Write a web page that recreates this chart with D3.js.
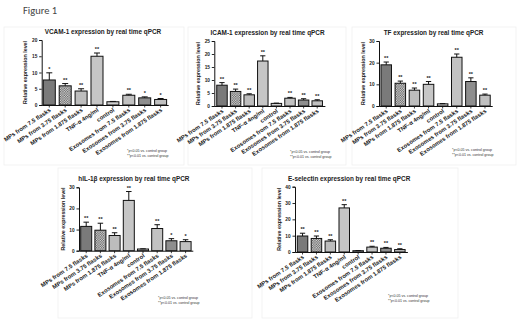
<!DOCTYPE html>
<html>
<head>
<meta charset="utf-8">
<script src="https://cdn.jsdelivr.net/npm/d3@7"></script>
<style>
  body { margin: 0; background: #fff; }
  svg { display: block; font-family: "Liberation Sans", Arial, sans-serif; }
</style>
</head>
<body>
<svg id="fig" width="520" height="325"></svg>
<script>
// Data
const categories = ["MPs from 7.5 flasks", "MPs from 3.75 flasks", "MPs from 1.875 flasks", "TNF-α 4ng/ml",
  "control", "Exosomes from 7.5 flasks", "Exosomes from 3.75 flasks", "Exosomes from 1.875 flasks"];

const vcamMeans = [7.7, 5.9, 4.3, 15.0, 1.0, 3.0, 2.2, 1.7];
const vcamErrors = [2.2, 0.7, 0.7, 1.0, 0.1, 0.3, 0.3, 0.3];
const vcamStars = ["*", "**", "**", "**", "", "**", "*", "*"];
const vcamTicks = [0, 5, 10, 15, 20];

const icamMeans = [8.0, 5.6, 4.3, 17.3, 1.0, 3.0, 2.3, 2.0];
const icamErrors = [1.0, 0.9, 0.4, 2.0, 0.1, 0.3, 0.5, 0.4];
const icamStars = ["**", "**", "**", "**", "", "**", "**", "**"];
const icamTicks = [0, 5, 10, 15, 20, 25];

const tfMeans = [19.0, 10.5, 7.3, 10.0, 1.0, 22.5, 11.3, 5.0];
const tfErrors = [1.3, 1.0, 1.0, 1.3, 0.1, 1.5, 1.7, 0.5];
const tfStars = ["**", "**", "**", "**", "", "**", "**", "**"];
const tfTicks = [0, 10, 20, 30];

const il1Means = [11.5, 9.7, 7.2, 23.8, 0.8, 10.5, 4.7, 4.3];
const il1Errors = [2.0, 3.3, 1.3, 4.2, 0.1, 1.8, 1.0, 0.9];
const il1Stars = ["**", "**", "**", "**", "", "**", "*", "*"];
const il1Ticks = [0, 10, 20, 30];

const eselMeans = [9.8, 8.3, 6.7, 27.0, 0.8, 3.0, 2.3, 1.5];
const eselErrors = [1.7, 1.5, 0.8, 2.0, 0.1, 0.5, 0.5, 0.5];
const eselStars = ["**", "**", "**", "**", "", "**", "**", "**"];
const eselTicks = [0, 10, 20, 30, 40];

const titles = ["VCAM-1 expression by real time qPCR", "ICAM-1 expression by real time qPCR",
  "TF expression by real time qPCR", "hIL-1β expression by real time qPCR",
  "E-selectin expression by real time qPCR"];

// Layout of each panel (pixels)
const layouts = [
  { x0: 41.7, x1: 168.2, y0: 105, y1: 40, pin: 0.245, pout: 0.1, note: [127, 152], frame: [4, 27, 180, 138] },
  { x0: 214.3, x1: 324.9, y0: 106, y1: 41, pin: 0.23, pout: 0.18, note: [290, 153], frame: [188, 27, 158, 138] },
  { x0: 379, x1: 492.2, y0: 106, y1: 41, pin: 0.255, pout: 0.14, note: [452, 151], frame: [352, 27, 164, 138] },
  { x0: 79, x1: 192.8, y0: 250.7, y1: 187.3, pin: 0.225, pout: 0.12, note: [158, 299], frame: [58, 168, 194, 150] },
  { x0: 295, x1: 407.4, y0: 252, y1: 186.7, pin: 0.245, pout: 0.165, note: [388, 297], frame: [262, 168, 196, 150] }
];

const panels = [
  { means: vcamMeans, errors: vcamErrors, stars: vcamStars, ticks: vcamTicks },
  { means: icamMeans, errors: icamErrors, stars: icamStars, ticks: icamTicks },
  { means: tfMeans, errors: tfErrors, stars: tfStars, ticks: tfTicks },
  { means: il1Means, errors: il1Errors, stars: il1Stars, ticks: il1Ticks },
  { means: eselMeans, errors: eselErrors, stars: eselStars, ticks: eselTicks }
];

const barFills = ["#7a7a7a", "url(#checker)", "#bdbdbd", "#c6c6c6", "#cfcfcf", "#c2c2c2", "#8e8e8e", "#c0c0c0"];

const svg = d3.select("#fig");

// checkered pattern for the second bar
const pat = svg.append("defs").append("pattern")
  .attr("id", "checker")
  .attr("patternUnits", "userSpaceOnUse")
  .attr("width", 2.4).attr("height", 2.4);
pat.append("rect").attr("width", 2.4).attr("height", 2.4).attr("fill", "#e4e4e4");
pat.append("rect").attr("width", 1.2).attr("height", 1.2).attr("fill", "#555");
pat.append("rect").attr("x", 1.2).attr("y", 1.2).attr("width", 1.2).attr("height", 1.2).attr("fill", "#555");

svg.append("text")
  .attr("x", 23).attr("y", 14)
  .attr("font-family", "Calibri, 'Liberation Sans', sans-serif")
  .attr("font-size", 10.5)
  .attr("fill", "#444")
  .text("Figure 1");

panels.forEach((p, i) => {
  const L = layouts[i];
  const g = svg.append("g");

  // faint panel frame
  g.append("rect")
    .attr("x", L.frame[0]).attr("y", L.frame[1])
    .attr("width", L.frame[2]).attr("height", L.frame[3])
    .attr("fill", "none").attr("stroke", "#f0f0f0").attr("stroke-width", 0.8);

  const x = d3.scaleBand()
    .domain(categories)
    .range([L.x0, L.x1])
    .paddingInner(L.pin)
    .paddingOuter(L.pout);

  const y = d3.scaleLinear()
    .domain([0, d3.max(p.ticks)])
    .range([L.y0, L.y1]);

  // title
  g.append("text")
    .attr("x", (L.x0 + L.x1) / 2 - 2)
    .attr("y", L.y1 - 6)
    .attr("text-anchor", "middle")
    .attr("font-size", 6.4)
    .attr("font-weight", "bold")
    .attr("fill", "#222")
    .text(titles[i]);

  // y axis
  const yAxis = g.append("g")
    .attr("transform", `translate(${L.x0},0)`)
    .call(d3.axisLeft(y).tickValues(p.ticks).tickSize(2.5).tickPadding(1.8));
  yAxis.select(".domain").attr("stroke", "#111").attr("stroke-width", 1);
  yAxis.selectAll(".tick line").attr("stroke", "#111").attr("stroke-width", 0.9);
  yAxis.selectAll(".tick text").attr("font-size", 4.8).attr("font-weight", "bold").attr("fill", "#222");

  g.append("text")
    .attr("transform", `translate(${L.x0 - 14.5},${(L.y0 + L.y1) / 2}) rotate(-90)`)
    .attr("text-anchor", "middle")
    .attr("font-size", 5.3)
    .attr("font-weight", "bold")
    .attr("fill", "#222")
    .text("Relative expression level");

  // x axis
  const xAxis = g.append("g")
    .attr("transform", `translate(0,${L.y0})`)
    .call(d3.axisBottom(x).tickSize(2.5).tickSizeOuter(0).tickFormat(""));
  xAxis.select(".domain").attr("stroke", "#111").attr("stroke-width", 1);
  xAxis.selectAll(".tick line").attr("stroke", "#111").attr("stroke-width", 0.8);

  g.selectAll(".xlab")
    .data(categories)
    .enter().append("text")
    .attr("class", "xlab")
    .attr("transform", d => `translate(${x(d) + x.bandwidth() / 2 + 2},${L.y0 + 6}) rotate(-34)`)
    .attr("text-anchor", "end")
    .attr("font-size", 5.9)
    .attr("font-weight", "bold")
    .attr("fill", "#222")
    .text(d => d);

  // bars
  g.selectAll(".bar")
    .data(categories)
    .enter().append("rect")
    .attr("class", "bar")
    .attr("x", d => x(d))
    .attr("width", x.bandwidth())
    .attr("y", (d, j) => y(p.means[j]))
    .attr("height", (d, j) => L.y0 - y(p.means[j]))
    .attr("fill", (d, j) => barFills[j])
    .attr("stroke", "#111")
    .attr("stroke-width", 1);

  // error bars (upper only)
  const cx = d => x(d) + x.bandwidth() / 2;
  g.selectAll(".err")
    .data(categories)
    .enter().append("line")
    .attr("x1", cx).attr("x2", cx)
    .attr("y1", (d, j) => y(p.means[j]))
    .attr("y2", (d, j) => y(p.means[j] + p.errors[j]))
    .attr("stroke", "#111").attr("stroke-width", 1);
  g.selectAll(".cap")
    .data(categories)
    .enter().append("line")
    .attr("x1", d => cx(d) - x.bandwidth() * 0.25)
    .attr("x2", d => cx(d) + x.bandwidth() * 0.25)
    .attr("y1", (d, j) => y(p.means[j] + p.errors[j]))
    .attr("y2", (d, j) => y(p.means[j] + p.errors[j]))
    .attr("stroke", "#111").attr("stroke-width", 1);

  // significance stars
  g.selectAll(".star")
    .data(categories)
    .enter().append("text")
    .attr("x", cx)
    .attr("y", (d, j) => y(p.means[j] + p.errors[j]) - 2)
    .attr("text-anchor", "middle")
    .attr("font-size", 5.5)
    .attr("font-weight", "bold")
    .attr("fill", "#222")
    .text((d, j) => p.stars[j]);

  // footnote
  g.append("text")
    .attr("x", L.note[0]).attr("y", L.note[1])
    .attr("font-size", 3.6).attr("fill", "#333")
    .text("*p<0.05 vs. control group");
  g.append("text")
    .attr("x", L.note[0]).attr("y", L.note[1] + 5)
    .attr("font-size", 3.6).attr("fill", "#333")
    .text("**p<0.01 vs. control group");
});
</script>
</body>
</html>
